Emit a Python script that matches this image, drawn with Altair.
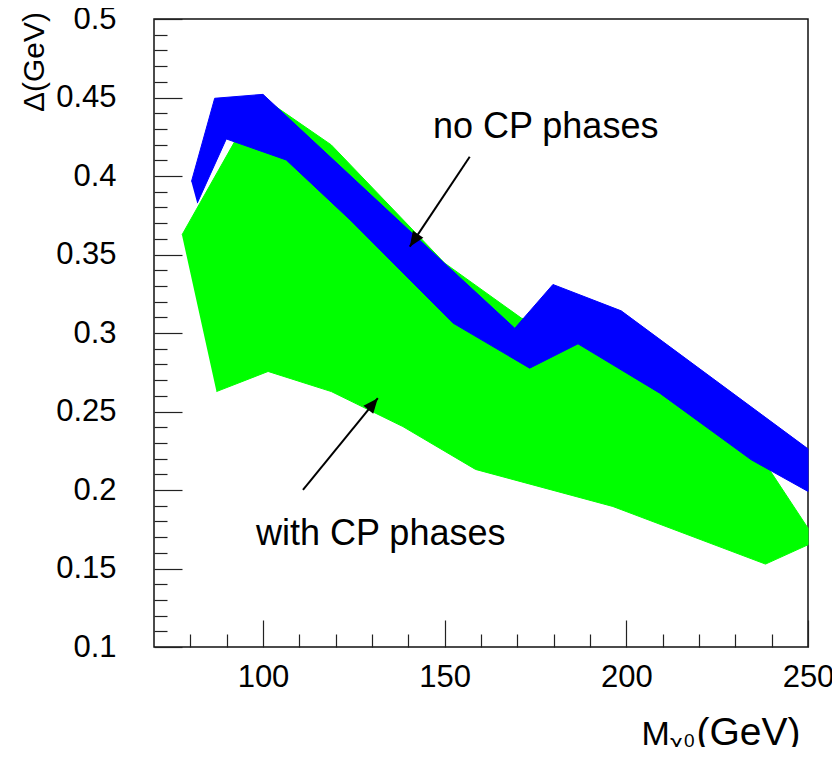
import math
import altair as alt
import pandas as pd

# ---------------- data ----------------
X_DOMAIN = [70, 250]
Y_DOMAIN = [0.1, 0.5]

# "with CP phases" region (green)
green_upper_x = [77.7, 92.2, 103.0, 118.8, 150.0, 171.1, 187.0, 210.0, 239.4, 250.0]
green_upper_y = [0.3625, 0.4219, 0.445, 0.4198, 0.3445, 0.3095, 0.298, 0.265, 0.2129, 0.1757]
green_lower_x = [87.2, 101.4, 118.8, 138.5, 158.5, 196.3, 238.3, 250.0]
green_lower_y = [0.2627, 0.2755, 0.2627, 0.2404, 0.2131, 0.1895, 0.1528, 0.1651]

# "no CP phases" band (blue)
blue_upper_x = [80.3, 86.7, 100.0, 151.4, 169.3, 179.8, 198.6, 250.0]
blue_upper_y = [0.3964, 0.4495, 0.452, 0.3413, 0.303, 0.3309, 0.3141, 0.2262]
blue_lower_x = [81.9, 89.9, 106.4, 124.0, 152.3, 173.4, 186.7, 209.2, 234.4, 250.0]
blue_lower_y = [0.3827, 0.4236, 0.4102, 0.372, 0.3063, 0.2776, 0.2931, 0.2617, 0.2192, 0.1991]

# annotations
label_text = ["no CP phases", "with CP phases"]
label_x = [177.8, 132.4]
label_y = [0.4244, 0.1651]

arrow_x_start = [156.9, 111.0]
arrow_y_start = [0.4123, 0.2001]
arrow_x_end = [140.4, 131.6]
arrow_y_end = [0.355, 0.2585]

x_major = [100, 150, 200, 250]
x_minor = [80, 90, 110, 120, 130, 140, 160, 170, 180, 190, 210, 220, 230, 240]
y_major = [0.1, 0.15, 0.2, 0.25, 0.3, 0.35, 0.4, 0.45, 0.5]
y_minor = [round(0.1 + 0.01 * i, 2) for i in range(41) if i % 5 != 0]

# ---------------- layout ----------------
W, H = 654, 628
FONT = "Liberation Sans"


def polygon(ux, uy, lx, ly):
    xs = list(ux) + list(reversed(lx))
    ys = list(uy) + list(reversed(ly))
    return pd.DataFrame({"x": xs, "y": ys, "i": range(len(xs))})


green_df = polygon(green_upper_x, green_upper_y, green_lower_x, green_lower_y)
blue_df = polygon(blue_upper_x, blue_upper_y, blue_lower_x, blue_lower_y)

px_x = W / (X_DOMAIN[1] - X_DOMAIN[0])
px_y = H / (Y_DOMAIN[1] - Y_DOMAIN[0])
angles = []
for xs, ys, xe, ye in zip(arrow_x_start, arrow_y_start, arrow_x_end, arrow_y_end):
    dx = (xe - xs) * px_x
    dy = -(ye - ys) * px_y
    angles.append((math.degrees(math.atan2(dx, -dy)) + 360) % 360)
arrow_df = pd.DataFrame({"x1": arrow_x_start, "y1": arrow_y_start,
                         "x2": arrow_x_end, "y2": arrow_y_end, "ang": angles})
label_df = pd.DataFrame({"t": label_text, "x": label_x, "y": label_y})

xs = alt.Scale(domain=X_DOMAIN, nice=False, zero=False)
ys = alt.Scale(domain=Y_DOMAIN, nice=False, zero=False)

x_axis_major = alt.Axis(orient="bottom", values=x_major, offset=-27, tickSize=27,
                        tickColor="#222", tickWidth=1.2, domain=False, grid=False,
                        labelFont=FONT, labelFontSize=31, labelColor="black",
                        labelPadding=15, labelFlush=False, labelOverlap=False, title=None,
                        format="d")
x_axis_minor = alt.Axis(orient="bottom", values=x_minor, offset=-13, tickSize=13,
                        tickColor="#222", tickWidth=1.2, domain=False, grid=False,
                        labels=False, title=None)
y_axis_major = alt.Axis(orient="left", values=y_major, offset=-28, tickSize=28,
                        tickColor="#222", tickWidth=1.2, domain=False, grid=False,
                        labelFont=FONT, labelFontSize=31, labelColor="black",
                        labelPadding=38, labelFlush=False, labelOverlap=False, title=None,
                        format="~g")
y_axis_minor = alt.Axis(orient="left", values=y_minor, offset=-13, tickSize=13,
                        tickColor="#222", tickWidth=1.2, domain=False, grid=False,
                        labels=False, title=None)

green = alt.Chart(green_df).mark_line(fill="#00ff00", stroke="#00ff00", strokeWidth=1).encode(
    x=alt.X("x:Q", scale=xs, axis=x_axis_major),
    y=alt.Y("y:Q", scale=ys, axis=y_axis_major),
    order=alt.Order("i:Q"),
)
blue = alt.Chart(blue_df).mark_line(fill="#0000ff", stroke="#0000ff", strokeWidth=1).encode(
    x=alt.X("x:Q", scale=xs, axis=x_axis_minor),
    y=alt.Y("y:Q", scale=ys, axis=y_axis_minor),
    order=alt.Order("i:Q"),
)
arrows = alt.Chart(arrow_df).mark_rule(color="black", strokeWidth=2).encode(
    x=alt.X("x1:Q", scale=xs, axis=None),
    y=alt.Y("y1:Q", scale=ys, axis=None),
    x2="x2:Q",
    y2="y2:Q",
)
heads = alt.Chart(arrow_df).mark_point(
    shape="M0,0L-0.42,1L0.42,1Z", filled=True, color="black", size=900, strokeWidth=0, opacity=1
).encode(
    x=alt.X("x2:Q", scale=xs, axis=None),
    y=alt.Y("y2:Q", scale=ys, axis=None),
    angle=alt.Angle("ang:Q", scale=None),
)
labels = alt.Chart(label_df).mark_text(
    font=FONT, fontSize=36, color="black", align="center", baseline="alphabetic"
).encode(
    x=alt.X("x:Q", scale=xs, axis=None),
    y=alt.Y("y:Q", scale=ys, axis=None),
    text="t:N",
)


def txt(s, x, y, size, angle=0):
    return alt.Chart(pd.DataFrame({"t": [s]})).mark_text(
        font=FONT, fontSize=size, color="black", align="left",
        baseline="alphabetic", angle=angle
    ).encode(x=alt.value(x), y=alt.value(y), text="t:N")


title_parts = [
    txt("M", 487.4, 726, 34),
    txt("χ", 516.0, 732, 24),
    txt("0", 530.0, 727.7, 19),
    txt("(GeV)", 542.4, 726, 39),
    txt("Δ(GeV)", -110.3, 93, 30, angle=270),
]

chart = alt.layer(green, blue, arrows, heads, labels, *title_parts).resolve_axis(
    x="independent", y="independent"
).resolve_scale(x="shared", y="shared").properties(
    width=W, height=H,
    autosize=alt.AutoSizeParams(type="none"),
    padding={"left": 146, "top": 11, "right": 24, "bottom": 100},
    background="white",
).configure_view(stroke="#111", strokeWidth=1.5)

chart.save("out.html", embed_options={"renderer": "svg", "actions": False})
